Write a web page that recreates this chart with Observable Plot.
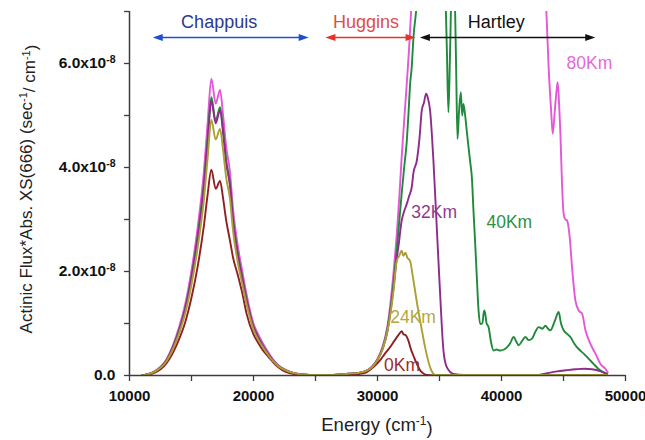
<!DOCTYPE html>
<html>
<head>
<meta charset="utf-8">
<script src="https://cdn.jsdelivr.net/npm/d3@7"></script>
<script src="https://cdn.jsdelivr.net/npm/@observablehq/plot@0.6"></script>
<style>
  html, body { margin: 0; padding: 0; background: #ffffff; }
  #chart { width: 645px; height: 440px; }
</style>
</head>
<body>
<div id="chart"></div>
<script>
// ---------------- DATA (values of y in units of 1e-8 sec^-1/cm^-1) ----------------
const seriesNames  = ["0Km", "24Km", "32Km", "40Km", "80Km"];
const seriesColors = ["#8E1F22", "#ABA034", "#8E2C8C", "#1F8A3B", "#E457D6"];
const labelColors  = ["#9A2C2E", "#B4A840", "#8E3A8E", "#2A9143", "#E46AD9"];
const drawOrder    = ["80Km", "40Km", "32Km", "0Km", "24Km"];

// Chappuis band (shared energy grid, cm^-1)
const chappuisEnergy = [11000,12000,13000,14000,14500,15000,15500,16000,16300,16600,16950,17300,17550,17800,18100,18350,18750,19100,19450,20000,20400,20800,21200,21600,22000,22600,23200,24000,25000,26000,27000,28000];
const chappuis0Km  = [0,0.05,0.24,0.70,1.03,1.50,2.10,2.88,3.48,3.96,3.59,3.74,3.40,2.98,2.60,2.27,1.92,1.58,1.18,0.79,0.62,0.47,0.36,0.25,0.16,0.07,0.03,0.01,0,0,0.01,0.02];
const chappuis24Km = [0,0.07,0.28,0.81,1.20,1.75,2.46,3.38,4.18,4.92,4.54,4.74,4.33,3.80,3.40,2.78,2.15,1.75,1.36,0.88,0.68,0.53,0.39,0.27,0.18,0.10,0.05,0.02,0.01,0.01,0.02,0.04];
const chappuis32Km = [0,0.07,0.30,0.86,1.28,1.87,2.64,3.63,4.49,5.28,4.85,5.10,4.66,4.08,3.65,2.97,2.30,1.86,1.44,0.93,0.72,0.55,0.41,0.28,0.18,0.10,0.05,0.02,0.01,0.01,0.02,0.04];
const chappuis40Km = [0,0.07,0.30,0.88,1.30,1.90,2.68,3.68,4.55,5.35,4.90,5.16,4.72,4.13,3.70,3.02,2.33,1.88,1.46,0.94,0.73,0.56,0.41,0.28,0.19,0.10,0.05,0.02,0.01,0.01,0.02,0.04];
const chappuis80Km = [0,0.08,0.32,0.93,1.38,2.02,2.85,3.92,4.85,5.71,5.23,5.49,5.00,4.39,3.92,3.20,2.47,2.00,1.55,1.00,0.78,0.60,0.44,0.30,0.20,0.11,0.05,0.02,0.01,0.01,0.02,0.04];

// Huggins / Hartley bands
const uv0KmEnergy = [28500,29000,29600,30200,30600,31000,31400,31700,31955,32100,32250,32490,32700,32900,33100,33300,33500,33700,34000,35000,48500];
const uv0KmValue  = [0.03,0.05,0.15,0.29,0.42,0.54,0.68,0.78,0.85,0.79,0.78,0.67,0.50,0.38,0.26,0.16,0.08,0.04,0.01,0,0];

const uv24KmEnergy = [28500,29000,29500,30000,30400,30800,31000,31300,31550,31750,31950,32090,32250,32400,32630,32850,33030,33250,33430,33650,33840,34050,34240,34450,34650,48500];
const uv24KmValue  = [0.05,0.08,0.15,0.30,0.50,0.85,1.12,1.65,2.20,2.30,2.40,2.30,2.36,2.27,2.20,1.90,1.63,1.30,1.06,0.78,0.54,0.32,0.16,0.05,0.01,0.01];

const uv32KmEnergy = [28500,29000,29500,30000,30400,30800,31000,31300,31500,31700,31950,32100,32360,32550,32760,32900,33170,33400,33570,33750,33920,34050,34240,34510,34780,35050,35320,35590,36130,37000,43000,43800,44500,45200,46000,46700,47300,48000,48500];
const uv32KmValue  = [0.05,0.08,0.15,0.30,0.50,0.85,1.15,1.70,2.15,2.50,2.98,3.12,3.30,3.45,3.62,3.90,4.13,4.60,5.10,5.25,5.42,5.35,5.10,4.13,2.85,1.57,0.48,0.16,0.03,0.01,0.01,0.05,0.08,0.10,0.12,0.13,0.12,0.08,0.03];

const uv40KmEnergy = [28500,29000,29500,30000,30400,30800,31000,31300,31550,31750,31950,32150,32360,32490,32630,32760,32900,33110,33500,34000,34600,35100,35450,35600,35720,35850,36000,36150,36260,36350,36450,36580,36720,36830,36930,37070,37200,37340,37480,37610,37740,37880,38010,38150,38280,38450,38600,38690,38800,38960,39150,39360,39600,39900,40200,40440,40700,40980,41200,41380,41650,41920,42200,42460,42750,43000,43300,43540,43750,43940,44300,44610,44800,45010,45300,45560,45850,46100,46350,46630,47000,47440,47850,48250,48500];
const uv40KmValue  = [0.05,0.08,0.15,0.31,0.52,0.90,1.20,1.80,2.40,2.95,3.50,4.00,4.50,5.00,5.60,5.93,6.50,7.00,8.20,9.50,10.0,9.00,7.60,6.20,5.06,6.20,7.60,7.60,7.00,5.80,4.55,5.10,5.45,5.00,5.22,5.00,4.70,4.39,4.10,3.81,3.17,2.53,1.89,1.25,0.99,1.00,1.25,1.19,1.00,0.93,0.65,0.48,0.50,0.48,0.50,0.54,0.62,0.74,0.65,0.58,0.66,0.74,0.68,0.71,0.85,0.93,0.90,0.96,0.90,0.87,1.05,1.22,1.00,0.87,0.80,0.74,0.62,0.54,0.48,0.42,0.33,0.22,0.12,0.06,0.03];

const uv80KmEnergy = [28500,29000,29500,30000,30400,30800,31000,31300,31550,31750,31950,32150,32360,32550,32710,33000,34000,36000,38000,40000,42000,43200,43620,43800,44000,44130,44300,44450,44530,44650,44750,44880,45010,45150,45290,45500,45690,45960,46230,46500,46770,47170,47580,47980,48380,48570];
const uv80KmValue  = [0.05,0.08,0.16,0.32,0.55,0.95,1.30,2.00,2.70,3.40,4.20,4.90,5.61,6.30,7.00,8.50,12.0,16.0,18.0,17.0,13.0,9.00,7.00,5.93,5.10,4.65,5.10,5.50,5.64,5.20,4.65,3.69,3.11,3.00,2.98,2.66,2.08,1.44,1.25,1.19,0.87,0.61,0.42,0.22,0.13,0.06];

// series labels
const seriesLabelEnergy = [31980, 32870, 34570, 40630, 47090];
const seriesLabelValue  = [0.20, 1.11, 3.13, 2.94, 6.01];

// spectral regions (double arrows)
const regionNames      = ["Chappuis", "Huggins", "Hartley"];
const regionFrom       = [11915, 25840, 33460];
const regionTo         = [24490, 33110, 47600];
const regionLabelAt    = [17230, 29070, 39580];
const regionArrowValue = 6.49;
const regionLabelValue = 6.79;
const regionArrowColors = ["#1F4FCF", "#E5322B", "#111111"];
const regionTextColors  = ["#2B3A8C", "#DC4F4A", "#111111"];

// axes
const xTickValues  = [10000, 20000, 30000, 40000, 50000];
const xTickLabels  = ["10000", "20000", "30000", "40000", "50000"];
const xMinorTicks  = [15000, 25000, 35000, 45000];
const yTickValues  = [0, 2, 4, 6];
const yTickLabels  = ["0.0", "2.0x10^-8", "4.0x10^-8", "6.0x10^-8"];
const yMinorTicks  = [1, 3, 5, 7];

// ---------------- TABLE ----------------
const chappuisValues = [chappuis0Km, chappuis24Km, chappuis32Km, chappuis40Km, chappuis80Km];
const uvEnergies = [uv0KmEnergy, uv24KmEnergy, uv32KmEnergy, uv40KmEnergy, uv80KmEnergy];
const uvValues   = [uv0KmValue, uv24KmValue, uv32KmValue, uv40KmValue, uv80KmValue];
const rows = [];
drawOrder.forEach(name => {
  const i = seriesNames.indexOf(name);
  chappuisEnergy.forEach((e, j) => rows.push({series: name, energy: e, value: chappuisValues[i][j]}));
  uvEnergies[i].forEach((e, j) => rows.push({series: name, energy: e, value: uvValues[i][j]}));
});

const font = "'Liberation Sans', Arial, Helvetica, sans-serif";
const axisColor = "#3c3c3c";

const labelMarks = seriesNames.map((n, i) =>
  Plot.text([n], {x: () => seriesLabelEnergy[i], y: () => seriesLabelValue[i], text: d => d,
    fill: labelColors[i], fontSize: 17.5, textAnchor: "middle", lineAnchor: "middle"}));
const regionMarks = regionNames.map((n, i) =>
  Plot.text([n], {x: () => regionLabelAt[i], y: () => regionLabelValue, text: d => d,
    fill: regionTextColors[i], fontSize: 18, textAnchor: "middle", lineAnchor: "middle"}));

const plot = Plot.plot({
  width: 645, height: 440,
  marginLeft: 129, marginRight: 20, marginTop: 11, marginBottom: 65,
  style: {fontFamily: font, background: "#ffffff", color: axisColor, overflow: "visible"},
  x: {domain: [10000, 50000], label: null},
  y: {domain: [0, 7], label: null},
  color: {domain: seriesNames, range: seriesColors},
  marks: [
    Plot.line(rows, {x: "energy", y: "value", z: "series", stroke: "series",
      strokeWidth: 1.9, curve: "monotone-x", clip: true}),
    Plot.ruleX([10000], {stroke: axisColor, strokeWidth: 1.5}),
    Plot.ruleY([0], {stroke: axisColor, strokeWidth: 1.5}),
    Plot.axisX({ticks: xTickValues, tickFormat: d => xTickLabels[xTickValues.indexOf(d)],
      tickSize: 6, tickPadding: 9, fontSize: 15, fontWeight: "bold", fill: "#111",
      stroke: axisColor, strokeWidth: 1.3, label: null}),
    Plot.axisX({ticks: xMinorTicks, tickSize: 6, fill: "none", stroke: axisColor, strokeWidth: 1.3, label: null}),
    Plot.axisY({ticks: yTickValues, tickFormat: d => yTickLabels[yTickValues.indexOf(d)],
      tickSize: 5, tickPadding: 9, fontSize: 15.5, fontWeight: "bold", fill: "#111",
      stroke: axisColor, strokeWidth: 1.3, label: null}),
    Plot.axisY({ticks: yMinorTicks, tickSize: 5, fill: "none", stroke: axisColor, strokeWidth: 1.3, label: null}),
    ...labelMarks,
    ...regionMarks
  ]
});

document.getElementById("chart").appendChild(plot);

// ---------- superscripts in y tick labels ----------
const svg = d3.select(plot);
svg.selectAll('g[aria-label="y-axis tick label"] text').each(function () {
  const t = d3.select(this);
  const s = t.text();
  const k = s.indexOf("^");
  if (k < 0) return;
  t.text(s.slice(0, k));
  t.append("tspan").attr("dy", "-0.55em").attr("font-size", "10.5px").text(s.slice(k + 1));
});

// ---------- double arrows for regions (via plot scales) ----------
const sx = plot.scale("x"), sy = plot.scale("y");
const ga = svg.append("g").attr("aria-label", "region arrows");
const headL = 10, headW = 3.6;
regionNames.forEach((n, i) => {
  const x1 = sx.apply(regionFrom[i]), x2 = sx.apply(regionTo[i]), y = sy.apply(regionArrowValue);
  const c = regionArrowColors[i];
  ga.append("line").attr("x1", x1 + 4).attr("x2", x2 - 4).attr("y1", y).attr("y2", y)
    .attr("stroke", c).attr("stroke-width", 1.3);
  ga.append("path").attr("d", `M${x1},${y}L${x1 + headL},${y - headW}L${x1 + headL},${y + headW}Z`).attr("fill", c);
  ga.append("path").attr("d", `M${x2},${y}L${x2 - headL},${y - headW}L${x2 - headL},${y + headW}Z`).attr("fill", c);
});

// ---------- axis titles ----------
const yMid = (sy.apply(0) + sy.apply(7)) / 2;
const yl = svg.append("text")
  .attr("transform", `translate(32,${yMid - 4}) rotate(-90)`)
  .attr("text-anchor", "middle").attr("font-size", 17).attr("fill", "#222")
  .attr("font-family", font);
yl.append("tspan").text("Actinic Flux*Abs. XS(666) (sec");
yl.append("tspan").attr("dy", "-0.45em").attr("font-size", "11px").text("-1");
yl.append("tspan").attr("dy", "0.45em").text("/ cm");
yl.append("tspan").attr("dy", "-0.45em").attr("font-size", "11px").text("-1");
yl.append("tspan").attr("dy", "0.45em").text(")");

const xMid = (sx.apply(10000) + sx.apply(50000)) / 2;
const xl = svg.append("text")
  .attr("x", xMid).attr("y", 431)
  .attr("text-anchor", "middle").attr("font-size", 18.5).attr("fill", "#222")
  .attr("font-family", font);
xl.append("tspan").text("Energy (cm");
xl.append("tspan").attr("dy", "-0.5em").attr("font-size", "12px").text("-1");
xl.append("tspan").attr("dy", "0.5em").text(")");
</script>
</body>
</html>
